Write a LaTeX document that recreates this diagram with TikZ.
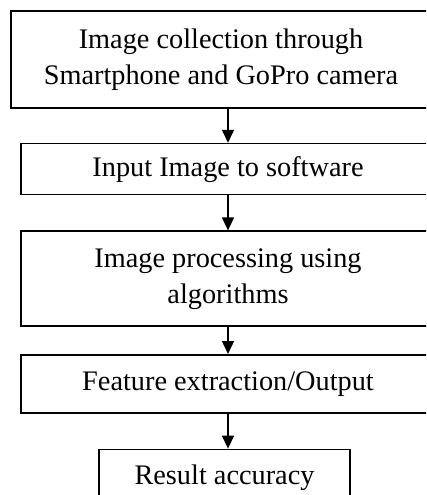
\documentclass[tikz,border=0pt]{standalone}
\usepackage{fontspec}
\setmainfont{Liberation Serif}
\usetikzlibrary{positioning, arrows.meta}

\begin{document}
\begin{tikzpicture}[x=1pt, y=1pt,
line width=1.6pt,
block/.style={draw, fill=white, rectangle, align=center, inner sep=0pt, minimum width=414pt, font=\fontsize{28.3}{36}\selectfont},
flow/.style={-{Triangle[length=13pt, width=12pt]}, line width=1.4pt}]

\path[use as bounding box, clip] (0,0) rectangle (426,-495);

\node[block, minimum width=440pt, minimum height=97pt]	(collect) at (231,-59.5)	{\hspace*{-20pt}Image collection through\\ \hspace*{-20pt}Smartphone and GoPro camera};
\node[block, minimum height=51pt]	(input)[below=34pt of collect, xshift=-3pt]	{Input Image to software};
\node[block, minimum height=95pt]	(process)[below=35pt of input]	{Image processing using\\ algorithms};
\node[block, minimum height=58pt]	(feature)[below=27pt of process]	{Feature extraction/Output};
\node[block, minimum width=251pt, minimum height=56pt]	(result)[below=35pt of feature, xshift=-3.5pt]	{Result accuracy};

% arrows run straight down at the x of the lower box
\draw[flow] (input.north |- collect.south) -- (input.north);
\draw[flow] (input) -- (process);
\draw[flow] (process) -- (feature);
\draw[flow] (feature.south) -- (feature.south |- result.north);

\end{tikzpicture}
\end{document}
